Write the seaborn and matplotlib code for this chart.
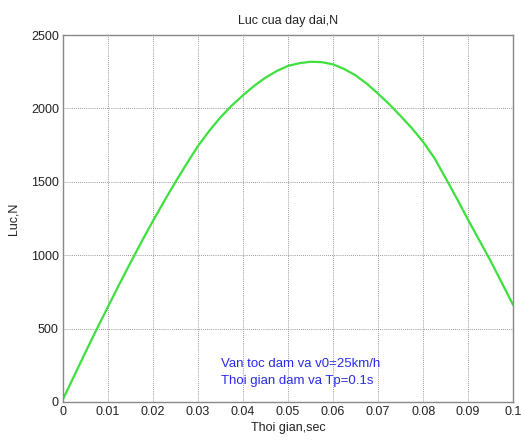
import matplotlib
matplotlib.use("Agg")
import matplotlib.pyplot as plt
import seaborn as sns
import pandas as pd

time_s = [0.0, 0.0025, 0.005, 0.0075, 0.01, 0.0125, 0.015, 0.0175, 0.02, 0.0225,
          0.025, 0.0275, 0.03, 0.0325, 0.035, 0.0375, 0.04, 0.0425, 0.045, 0.0475,
          0.05, 0.0525, 0.055, 0.0575, 0.06, 0.0625, 0.065, 0.0675, 0.07, 0.0725,
          0.075, 0.0775, 0.08, 0.0825, 0.085, 0.0875, 0.09, 0.0925, 0.095, 0.0975, 0.1]
force_n = [20, 180, 340, 497, 650, 802, 950, 1095, 1235, 1370,
           1500, 1625, 1745, 1848, 1940, 2020, 2090, 2155, 2210, 2255,
           2290, 2308, 2318, 2315, 2300, 2268, 2225, 2168, 2100, 2028,
           1948, 1865, 1772, 1662, 1525, 1385, 1240, 1100, 960, 810, 660]
x_ticks = [0, 0.01, 0.02, 0.03, 0.04, 0.05, 0.06, 0.07, 0.08, 0.09, 0.1]
x_tick_labels = ["0", "0.01", "0.02", "0.03", "0.04", "0.05", "0.06", "0.07", "0.08", "0.09", "0.1"]
y_ticks = [0, 500, 1000, 1500, 2000, 2500]

sns.set_style("white")
plt.rcParams['font.family'] = ['Liberation Sans', 'DejaVu Sans']

df = pd.DataFrame({"t": time_s, "F": force_n})

fig = plt.figure(figsize=(5.21, 4.40), dpi=100)
ax = fig.add_axes([0.121, 0.0864, 0.864, 0.834])
sns.lineplot(data=df, x="t", y="F", ax=ax, color="#3ee03e", linewidth=1.6)

ax.set_xlim(0, 0.1)
ax.set_ylim(0, 2500)
ax.set_xticks(x_ticks)
ax.set_xticklabels(x_tick_labels)
ax.set_yticks(y_ticks)
ax.grid(True, linestyle=(0, (1, 1.5)), color="#777777", linewidth=0.6)
for s in ax.spines.values():
    s.set_color("#888888")
    s.set_linewidth(1.0)
ax.tick_params(axis="both", direction="in", length=3, color="#888888",
               labelsize=9, labelcolor="#222222", pad=3)
ax.set_xlabel("Thoi gian,sec", fontsize=9, color="#222222", labelpad=3)
ax.set_ylabel("Luc,N", fontsize=9, color="#222222", labelpad=8)
ax.set_title("Luc cua day dai,N", fontsize=9, color="#222222", pad=8)

ax.text(0.0352, 259, "Van toc dam va v0=25km/h", color="#2a2ae8", fontsize=9.5, va="center")
ax.text(0.0352, 143, "Thoi gian dam va Tp=0.1s", color="#2a2ae8", fontsize=9.5, va="center")

fig.savefig("out.png", dpi=100)
